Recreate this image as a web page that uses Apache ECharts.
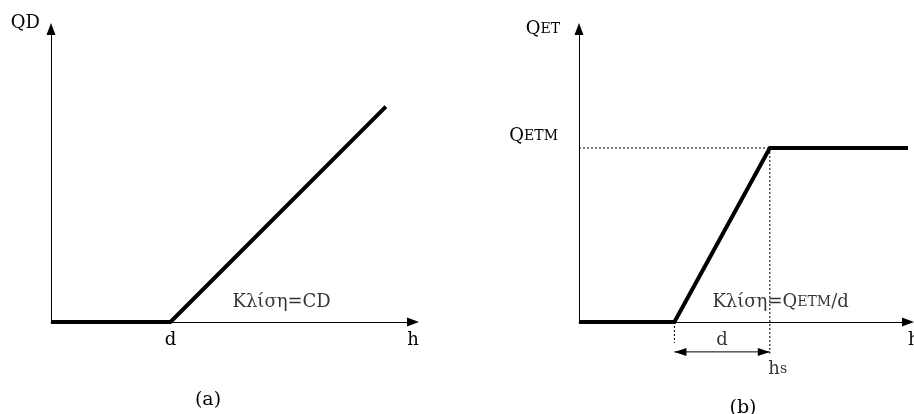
<!DOCTYPE html>
<html>
<head>
<meta charset="utf-8">
<script src="https://cdn.jsdelivr.net/npm/echarts@6/dist/echarts.min.js"></script>
<style>
  html, body { margin: 0; padding: 0; background: #fff; }
  #c { width: 914px; height: 414px; }
</style>
</head>
<body>
<div id="c"></div>
<script>
// Panel (a): drain discharge QD against head h (zero up to d, then slope CD)
const hA = [0, 3.3, 9.25];
const qA = [0, 0, 7.35];

// Panel (b): evapotranspiration QET against head h (ramp of width d up to hs, then capped at QETM)
const hB = [0, 2.9, 5.8, 10];
const qB = [0, 0, 5.94, 5.94];

// Axis extent shared by both panels
const axisMax = 10;

const dA = hA[1];
const kneeB = hB[1];
const hs = hB[2];
const qetm = qB[2];

// Guide lines under the h axis of panel (b)
const yKneeTick = -0.72;
const yArrow = -1.02;
const yHsTick = -1.08;

const FONT = 'DejaVu Serif';
const BLACK = '#000';
const txt = { fontFamily: FONT, color: BLACK, fontSize: 18 };
const richSC = {
  q: { fontFamily: FONT, color: BLACK, fontSize: 18 },
  s: { fontFamily: FONT, color: BLACK, fontSize: 14 }
};

function arrowAxisLine() {
  return {
    show: true,
    onZero: false,
    symbol: ['none', 'triangle'],
    symbolSize: [9, 12],
    lineStyle: { color: BLACK, width: 1 }
  };
}

const dotted = { color: BLACK, width: 1, type: [2, 2] };

const chart = echarts.init(document.getElementById('c'));

chart.setOption({
  animation: false,
  backgroundColor: '#fff',
  textStyle: { fontFamily: FONT },
  title: [
    { text: '(a)', left: 203, top: 386, textAlign: 'center',
      textStyle: Object.assign({}, txt, { fontSize: 19, fontWeight: 'normal' }) },
    { text: '(b)', left: 738, top: 394, textAlign: 'center',
      textStyle: Object.assign({}, txt, { fontSize: 19, fontWeight: 'normal' }) }
  ],
  grid: [
    { left: 51, top: 29, width: 362, height: 293, outerBoundsMode: 'none', containLabel: false },
    { left: 579, top: 29, width: 329, height: 293, outerBoundsMode: 'none', containLabel: false }
  ],
  xAxis: [
    {
      gridIndex: 0, type: 'value', min: 0, max: axisMax,
      axisLine: arrowAxisLine(), axisTick: { show: false }, splitLine: { show: false },
      axisLabel: Object.assign({}, txt, {
        customValues: [dA, axisMax],
        formatter: v => (v === axisMax ? 'h' : 'd'),
        margin: 9
      })
    },
    {
      gridIndex: 1, type: 'value', min: 0, max: axisMax,
      axisLine: arrowAxisLine(), axisTick: { show: false }, splitLine: { show: false },
      axisLabel: Object.assign({}, txt, {
        customValues: [axisMax],
        formatter: () => 'h',
        align: 'left',
        margin: 9
      })
    }
  ],
  yAxis: [
    {
      gridIndex: 0, type: 'value', min: 0, max: axisMax,
      axisLine: arrowAxisLine(), axisTick: { show: false }, splitLine: { show: false },
      axisLabel: { show: false },
      name: 'QD', nameLocation: 'end', nameGap: 6,
      nameTextStyle: Object.assign({}, txt, { align: 'right', verticalAlign: 'middle', padding: [0, 11, 0, 0] })
    },
    {
      gridIndex: 1, type: 'value', min: 0, max: axisMax,
      axisLine: arrowAxisLine(), axisTick: { show: false }, splitLine: { show: false },
      axisLabel: {
        customValues: [qetm],
        formatter: () => '{q|Q}{s|ETM}',
        margin: 21,
        verticalAlign: 'bottom',
        padding: [0, 0, 3, 0],
        rich: richSC
      },
      name: '{q|Q}{s|ET}', nameLocation: 'end', nameGap: 0,
      nameTextStyle: { align: 'right', verticalAlign: 'middle', padding: [0, 19, 0, 0], rich: richSC }
    }
  ],
  series: [
    {
      name: 'QD', type: 'line', xAxisIndex: 0, yAxisIndex: 0, silent: true,
      data: hA.map((h, i) => [h, qA[i]]),
      symbol: 'none',
      lineStyle: { color: BLACK, width: 4, cap: 'butt', join: 'miter' }
    },
    {
      name: 'QET', type: 'line', xAxisIndex: 1, yAxisIndex: 1, silent: true,
      data: hB.map((h, i) => [h, qB[i]]),
      symbol: 'none',
      lineStyle: { color: BLACK, width: 4, cap: 'butt', join: 'miter' }
    },
    {
      type: 'line', xAxisIndex: 1, yAxisIndex: 1, silent: true, clip: false,
      data: [[0, qetm], [hs, qetm]], symbol: 'none', lineStyle: dotted
    },
    {
      type: 'line', xAxisIndex: 1, yAxisIndex: 1, silent: true, clip: false,
      data: [[hs, qetm], [hs, yHsTick]], symbol: 'none', lineStyle: dotted
    },
    {
      type: 'line', xAxisIndex: 1, yAxisIndex: 1, silent: true, clip: false,
      data: [[kneeB, 0], [kneeB, yKneeTick]], symbol: 'none', lineStyle: dotted
    },
    {
      // width d of the ramp, shown as a double-headed arrow
      type: 'line', xAxisIndex: 1, yAxisIndex: 1, silent: true, clip: false,
      data: [
        { value: [kneeB, yArrow], symbolRotate: 90, symbolOffset: [6, 0] },
        { value: [hs, yArrow], symbolRotate: -90, symbolOffset: [-6, 0] }
      ],
      symbol: 'triangle', symbolSize: [8, 12], showSymbol: true,
      itemStyle: { color: BLACK },
      lineStyle: { color: BLACK, width: 1 }
    },
    {
      type: 'scatter', xAxisIndex: 0, yAxisIndex: 0, silent: true, clip: false,
      symbolSize: 1, itemStyle: { color: 'rgba(0,0,0,0)' },
      data: [
        { value: [5.0, 0.68],
          label: Object.assign({ show: true, position: 'right', distance: 0, formatter: 'Κλίση=CD' }, txt) }
      ]
    },
    {
      type: 'scatter', xAxisIndex: 1, yAxisIndex: 1, silent: true, clip: false,
      symbolSize: 1, itemStyle: { color: 'rgba(0,0,0,0)' },
      data: [
        { value: [4.04, 0.68],
          label: Object.assign({ show: true, position: 'right', distance: 0,
            formatter: 'Κλίση={q|Q}{s|ETM}/d', rich: richSC }, txt) },
        { value: [(kneeB + hs) / 2, yArrow],
          label: Object.assign({ show: true, position: 'top', distance: 2, formatter: 'd' }, txt) },
        { value: [hs, yArrow],
          label: Object.assign({ show: true, position: [-1, 9], formatter: 'h{s|s}', rich: richSC }, txt) }
      ]
    }
  ]
});
</script>
</body>
</html>
